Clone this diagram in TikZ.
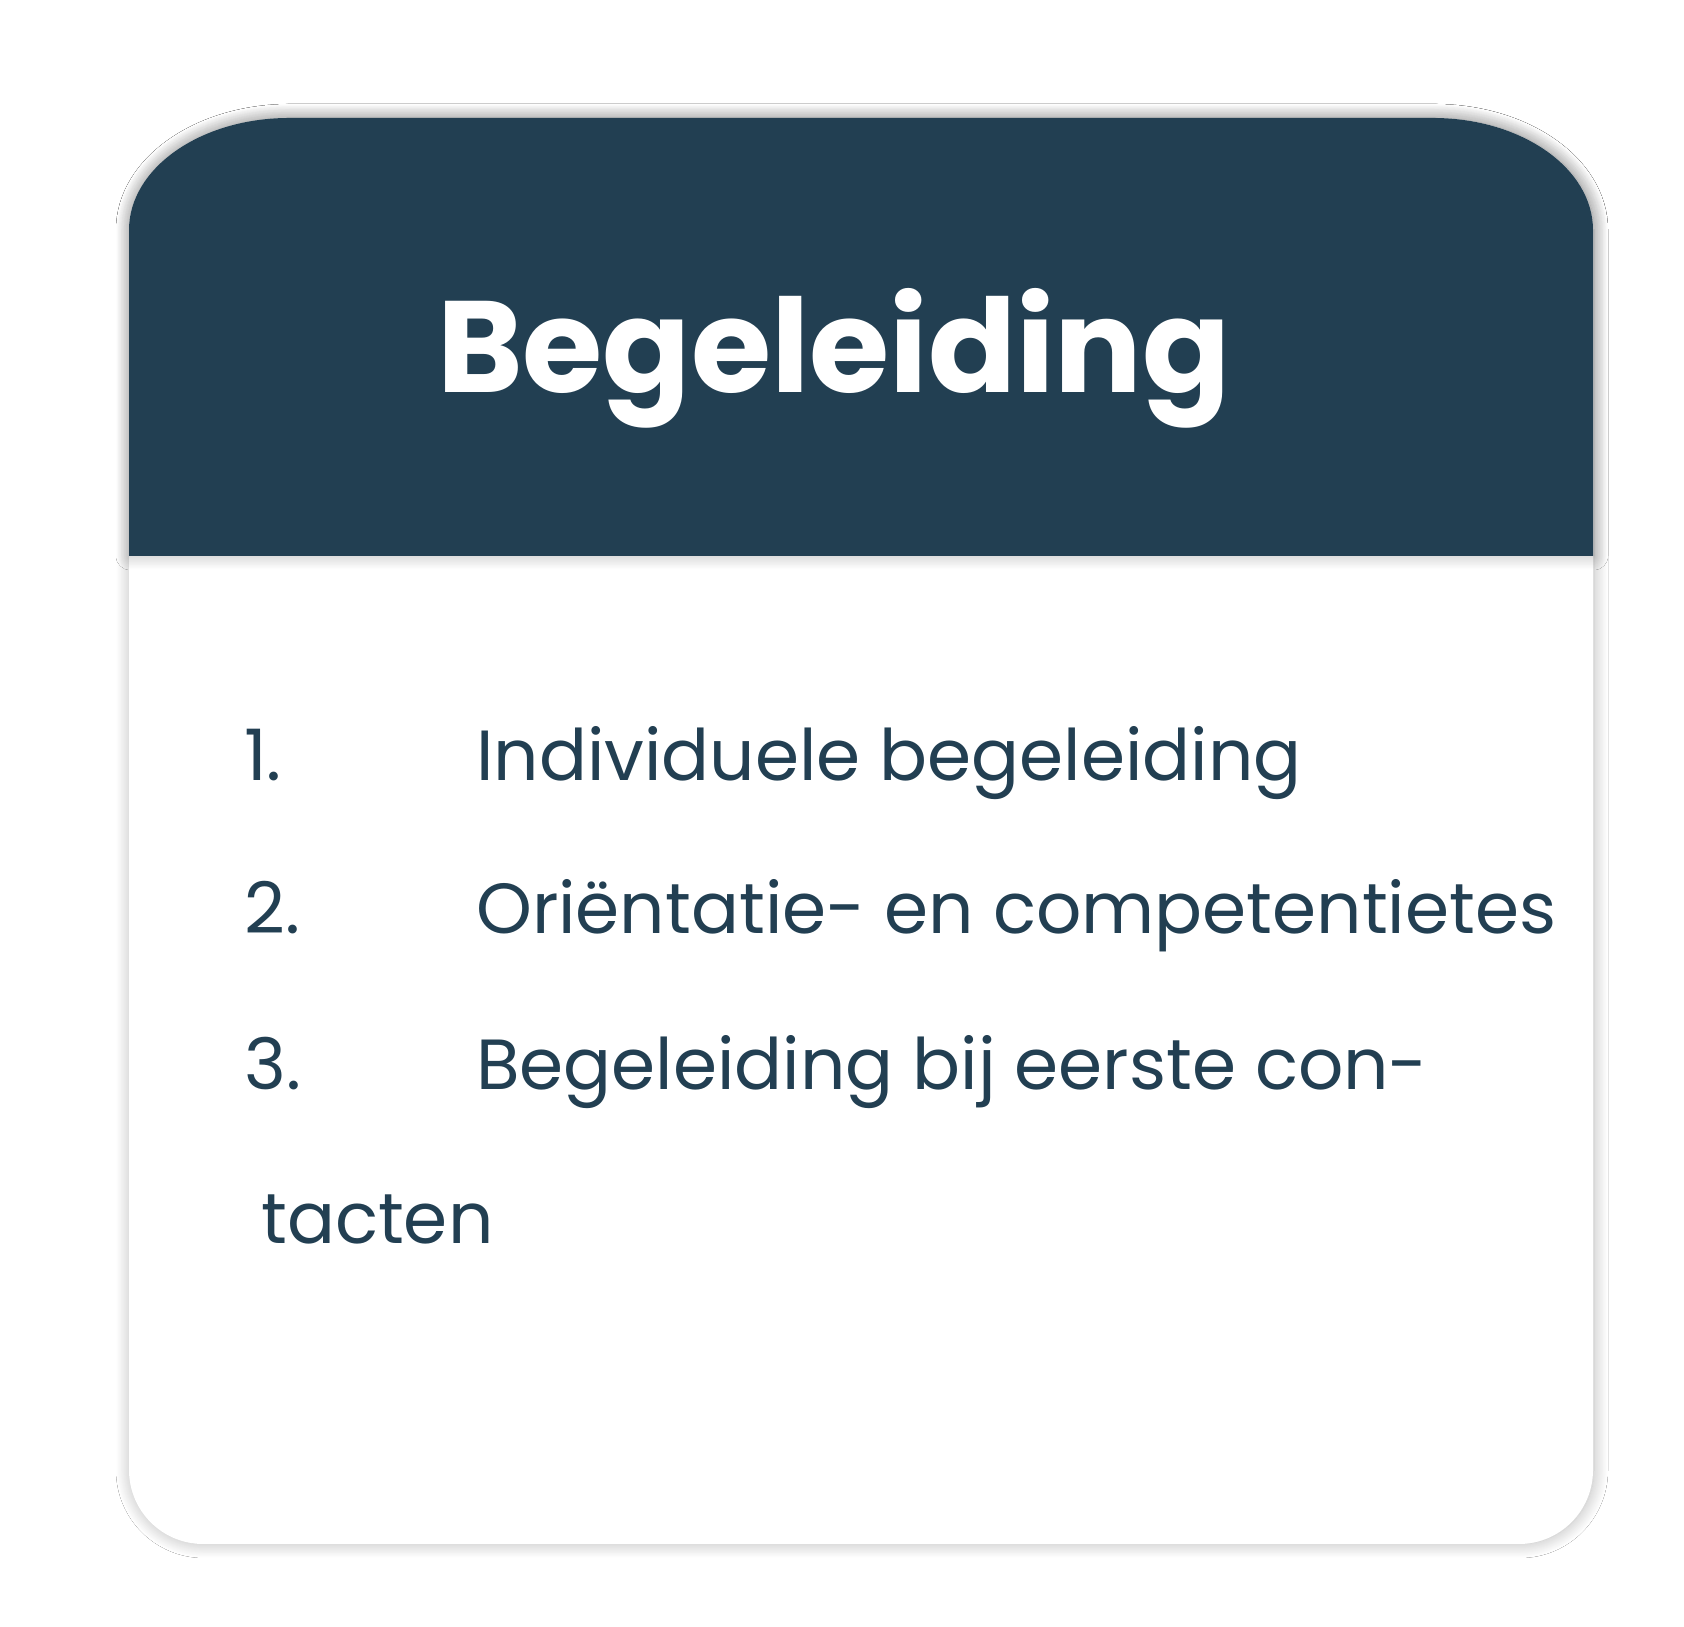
\documentclass[tikz,border=0pt]{standalone}
\usepackage{fontspec}
\setmainfont{Poppins}
\newfontfamily\titlefont{Poppins}[UprightFont=* Bold]
\usetikzlibrary{shadows.blur}
\definecolor{navy}{RGB}{34,63,82}
\tikzset{
  cardshadow/.style={blur shadow={shadow xshift=1pt,shadow yshift=0pt,shadow blur radius=14pt,shadow blur steps=30,shadow opacity=28}},
  itemtext/.style={anchor=base west,inner sep=0pt,text=navy,font=\fontsize{71}{71}\selectfont},
}
\begin{document}
\begin{tikzpicture}[x=1pt,y=1pt]
    \useasboundingbox (0,0) rectangle (1684,1627);
    \fill [white] (0,0) rectangle (1684,1627);
    % set coordinates
    \coordinate (BL) at (129,83);
    \coordinate (TR) at (1593,1509);
    \coordinate (H) at (129,1071);
    \coordinate (T) at (437,1234);
    \coordinate (N1) at (244,846);
    \coordinate (N2) at (244,693);
    \coordinate (N3) at (244,537);
    \coordinate (L1) at (476,846);
    \coordinate (L2) at (476,693);
    \coordinate (L3) at (476,537);
    \coordinate (L4) at (261,383);
    % draw figure
    \fill [white,cardshadow] (129,157) -- (129,1397)
        arc [start angle=180,end angle=90,x radius=160,y radius=112]
        -- (1433,1509)
        arc [start angle=90,end angle=0,x radius=160,y radius=112]
        -- (1593,157)
        arc [start angle=0,end angle=-90,radius=74]
        -- (203,83)
        arc [start angle=270,end angle=180,radius=74] -- cycle;
    \fill [navy,cardshadow] (H) -- (129,1397)
        arc [start angle=180,end angle=90,x radius=160,y radius=112]
        -- (1433,1509)
        arc [start angle=90,end angle=0,x radius=160,y radius=112]
        -- (1593,1071) -- cycle;
    % add labels
    \node [anchor=base west,inner sep=0pt,text=white,font=\titlefont\fontsize{130}{130}\selectfont] (title) at (T) {Begeleiding};
    \node [itemtext] (n1) at (N1) {1.};
    \node [itemtext] (n2) at (N2) {2.};
    \node [itemtext] (n3) at (N3) {3.};
    \node [itemtext] (t1) at (L1) {Individuele begeleiding};
    \node [itemtext] (t2) at (L2) {Oriëntatie- en competentietes};
    \node [itemtext] (t3) at (L3) {Begeleiding bij eerste con-};
    \node [itemtext] (t4) at (L4) {tacten};
\end{tikzpicture}
\end{document}
